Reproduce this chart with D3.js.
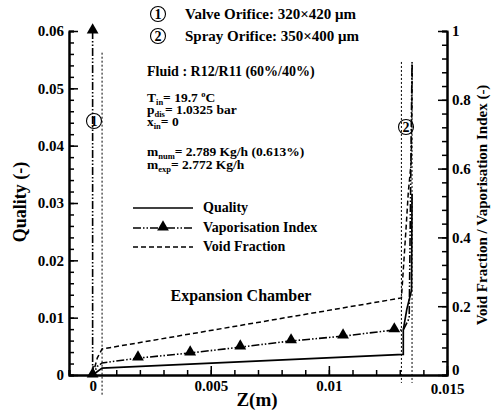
<!DOCTYPE html>
<html>
<head>
<meta charset="utf-8">
<script src="https://cdn.jsdelivr.net/npm/d3@7"></script>
<style>
  body { margin: 0; background: #fff; }
  text { font-family: "Liberation Serif", serif; font-weight: bold; }
</style>
</head>
<body>
<svg width="494" height="412"></svg>
<script>
// quality (left axis)
const qualityZ = [0, 0.0004, 0.01315, 0.01315, 0.0133, 0.0135, 0.01352];
const qualityV = [0, 0.0012, 0.0036, 0.0079, 0.0115, 0.0148, 0.0316];

// vaporisation index (right axis)
const vapZ = [0, 0, 0.0002, 0.0004, 0.00192, 0.00413, 0.00625, 0.0084, 0.0106, 0.01277, 0.01315, 0.0134, 0.01352];
const vapV = [1.0, 0, 0.025, 0.035, 0.049, 0.064, 0.081, 0.099, 0.113, 0.131, 0.131, 0.165, 0.91];
const vapMarks = [0, 1, 4, 5, 6, 7, 8, 9];

// void fraction (right axis)
const voidZ = [0, 0.0002, 0.0004, 0.01307, 0.01315, 0.01327, 0.01336, 0.01349, 0.01353];
const voidV = [0, 0.05, 0.0756, 0.224, 0.305, 0.43, 0.529, 0.625, 0.91];

// orifice markers (vertical dotted lines), right axis units
const refZ = [0.0004, 0.01307, 0.01352];
const refTop = [0.937, 0.91, 0.91];
const refBottom = [-0.058, -0.023, -0.023];

const leftTicks = [0, 0.01, 0.02, 0.03, 0.04, 0.05, 0.06];
const rightTicks = [0, 0.2, 0.4, 0.6, 0.8, 1];
const bottomTicks = [0, 0.005, 0.01, 0.015];

const svg = d3.select("svg");
const attr = { left: 69, right: 447, top: 31, bottom: 375 };

const scX = d3.scaleLinear().domain([-0.001, 0.015]).range([attr.left, attr.right]);
const scL = d3.scaleLinear().domain([0, 0.06]).range([attr.bottom, attr.top]);
const scR = d3.scaleLinear().domain([0, 1]).range([attr.bottom, attr.top]);

function styleAxis(g) {
    g.attr("font-family", null).attr("font-size", null);
    g.selectAll("path").attr("stroke", "#000").attr("stroke-width", 2);
    g.selectAll("line").attr("stroke", "#000").attr("stroke-width", 1.5);
    g.selectAll("text").style("font-size", "15px").attr("fill", "#000");
}

// minor ticks first
svg.append("g")
    .attr("transform", `translate(${attr.left},0)`)
    .call(d3.axisLeft(scL).tickValues(d3.range(0, 0.0601, 0.002)).tickSize(-5).tickFormat(""))
    .call(styleAxis);
svg.append("g")
    .attr("transform", `translate(${attr.right},0)`)
    .call(d3.axisRight(scR).tickValues(d3.range(0, 1.001, 0.04)).tickSize(-5).tickFormat(""))
    .call(styleAxis);
svg.append("g")
    .attr("transform", `translate(0,${attr.bottom})`)
    .call(d3.axisBottom(scX).tickValues(d3.range(-0.001, 0.0151, 0.001)).tickSize(-5).tickFormat(""))
    .call(styleAxis);

// major ticks
svg.append("g")
    .attr("transform", `translate(${attr.left},0)`)
    .call(d3.axisLeft(scL).tickValues(leftTicks).tickSizeInner(-9).tickSizeOuter(0).tickPadding(5)
        .tickFormat(d3.format("~g")))
    .call(styleAxis);
const rAxis = svg.append("g")
    .attr("transform", `translate(${attr.right},0)`)
    .call(d3.axisRight(scR).tickValues(rightTicks).tickSizeInner(-9).tickSizeOuter(0).tickPadding(5)
        .tickFormat(d3.format("~g")))
    .call(styleAxis);
rAxis.selectAll(".tick text").filter(d => d === 0).attr("dy", "-0.05em");
const bAxis = svg.append("g")
    .attr("transform", `translate(0,${attr.bottom})`)
    .call(d3.axisBottom(scX).tickValues(bottomTicks).tickSizeInner(-9).tickSizeOuter(0).tickPadding(5)
        .tickFormat(d3.format("~g")))
    .call(styleAxis);
bAxis.selectAll(".tick text").filter(d => d === 0.015).attr("dy", "0.95em");

// reference dotted lines
refZ.forEach((z, i) => {
    svg.append("line")
        .attr("x1", scX(z)).attr("x2", scX(z))
        .attr("y1", scR(refTop[i])).attr("y2", scR(refBottom[i]))
        .attr("stroke", "#000").attr("stroke-width", 1)
        .attr("stroke-dasharray", "2,2");
});

function drawSeries(zs, vs, scY, dash, width) {
    const pts = zs.map((z, i) => [scX(z), scY(vs[i])]);
    svg.append("path")
        .attr("d", d3.line()(pts))
        .attr("fill", "none")
        .attr("stroke", "#000")
        .attr("stroke-width", width)
        .attr("stroke-dasharray", dash);
}

drawSeries(qualityZ, qualityV, scL, null, 1.7);
drawSeries(voidZ, voidV, scR, "5,3", 1.5);
drawSeries(vapZ, vapV, scR, "8,2,1.5,2,1.5,2", 1.6);

const tri = d3.symbol().type(d3.symbolTriangle).size(60);
vapMarks.forEach(i => {
    svg.append("path")
        .attr("d", tri())
        .attr("transform", `translate(${scX(vapZ[i])},${scR(vapV[i]) - 1})`)
        .attr("fill", "#000");
});

// circled numbers
function circled(cx, cy, label) {
    svg.append("circle").attr("cx", cx).attr("cy", cy).attr("r", 7.5)
        .attr("fill", "none").attr("stroke", "#000").attr("stroke-width", 1.1);
    svg.append("text").attr("x", cx).attr("y", cy + 5).attr("text-anchor", "middle")
        .style("font-size", "14px").text(label);
}
circled(94, 121, "1");
circled(406, 127, "2");
circled(158, 14, "1");
circled(158, 36, "2");

// annotation text
const ann = svg.append("g").style("font-size", "14px");
ann.append("text").attr("x", 185).attr("y", 19).style("font-size", "15px").text("Valve Orifice: 320\u00d7420 \u03bcm");
ann.append("text").attr("x", 185).attr("y", 41).style("font-size", "15px").text("Spray Orifice: 350\u00d7400 \u03bcm");
ann.append("text").attr("x", 147).attr("y", 76).text("Fluid : R12/R11 (60%/40%)");

function subText(x, y, main, sub, rest, sup, tail) {
    const t = ann.append("text").attr("x", x).attr("y", y).style("font-size", "13.5px");
    t.append("tspan").text(main);
    t.append("tspan").attr("dy", 3).style("font-size", "8.5px").text(sub);
    t.append("tspan").attr("dy", -3).text(rest);
    if (sup) {
        t.append("tspan").attr("dy", -5).style("font-size", "8.5px").text(sup);
        t.append("tspan").attr("dy", 5).text(tail);
    }
}
subText(147, 102, "T", "in", "= 19.7 ", "o", "C");
subText(147, 114, "p", "dis", "= 1.0325 bar");
subText(147, 126, "x", "in", "=  0");
subText(147, 156, "m", "num", "= 2.789 Kg/h (0.613%)");
subText(147, 169, "m", "exp", "= 2.772 Kg/h");

// legend
const leg = [
    { y: 208, label: "Quality", dash: null, tri: false },
    { y: 228, label: "Vaporisation Index", dash: "8,2,1.5,2,1.5,2", tri: true },
    { y: 247, label: "Void Fraction", dash: "5,3", tri: false }
];
leg.forEach(d => {
    svg.append("line").attr("x1", 133).attr("x2", 193).attr("y1", d.y).attr("y2", d.y)
        .attr("stroke", "#000").attr("stroke-width", 1.6).attr("stroke-dasharray", d.dash);
    if (d.tri) {
        svg.append("path").attr("d", tri()).attr("transform", `translate(163,${d.y - 1})`).attr("fill", "#000");
    }
    ann.append("text").attr("x", 203).attr("y", d.y + 4).text(d.label);
});

svg.append("text").attr("x", 241).attr("y", 301).attr("text-anchor", "middle")
    .style("font-size", "16px").text("Expansion Chamber");

// axis titles
svg.append("text").attr("x", 257).attr("y", 406).attr("text-anchor", "middle")
    .style("font-size", "19px").text("Z(m)");
svg.append("text").attr("transform", "translate(26,202) rotate(-90)").attr("text-anchor", "middle")
    .style("font-size", "18px").text("Quality (-)");
svg.append("text").attr("transform", "translate(487,205) rotate(-90)").attr("text-anchor", "middle")
    .style("font-size", "15px").text("Void Fraction / Vaporisation Index  (-)");
</script>
</body>
</html>
